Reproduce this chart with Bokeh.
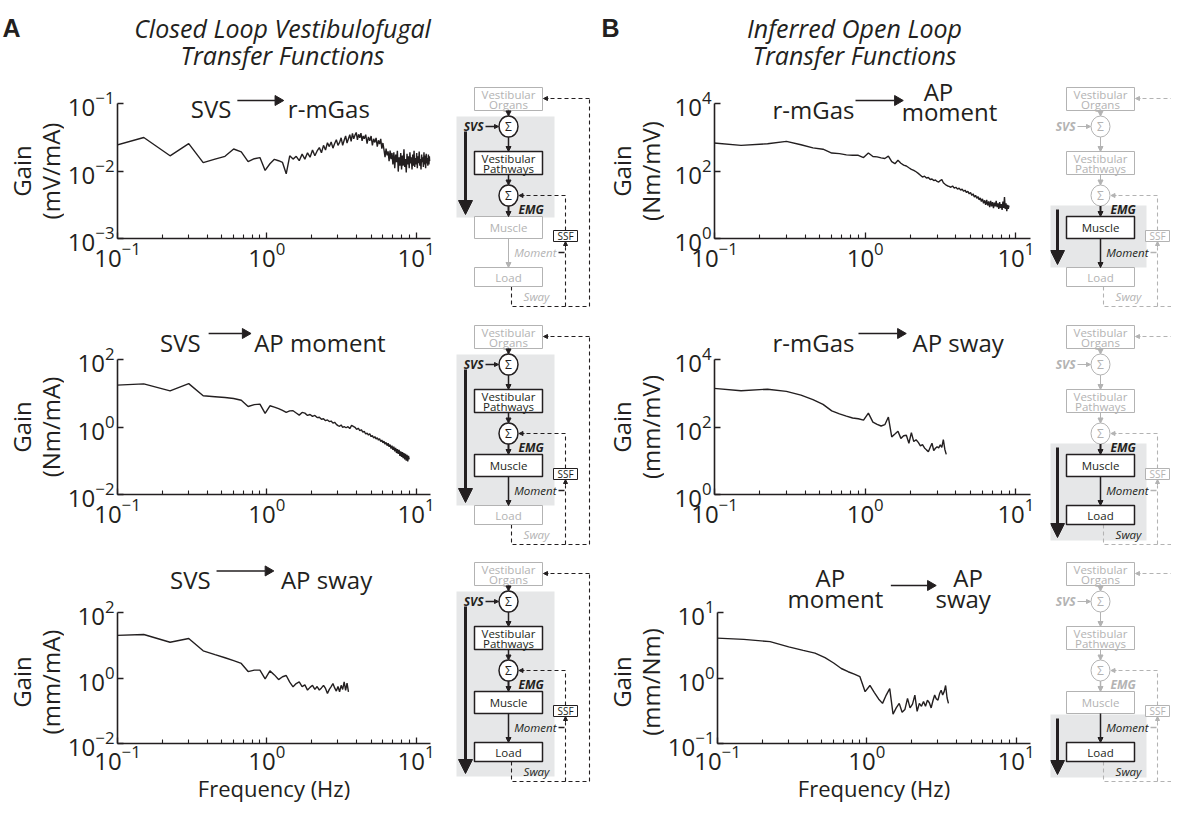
import numpy as np
from bokeh.plotting import figure
from bokeh.models import Range1d, FixedTicker, Arrow, NormalHead
from bokeh.layouts import row, column
from bokeh.embed import file_html
from bokeh.resources import INLINE
from bokeh.core.properties import value

FONT = "Open Sans"
BLACK = "#231f20"
GRAY = "#b3b3b3"
BGC = "#e6e7e8"

# ---------------- data ----------------
F_LOW = [0.075, 0.15, 0.225, 0.3, 0.375, 0.45, 0.525, 0.6, 0.675, 0.75,
         0.825, 0.9, 0.975, 1.05, 1.125, 1.2, 1.275, 1.35, 1.425, 1.5,
         1.575, 1.65, 1.725, 1.8, 1.875, 1.95, 2.025, 2.1, 2.175, 2.25,
         2.325, 2.4, 2.475, 2.55, 2.625, 2.7, 2.775, 2.85, 2.925, 3.0,
         3.075, 3.15, 3.225, 3.3, 3.375, 3.45, 3.525]
F_LOW2 = [3.6, 3.675, 3.75, 3.825, 3.9, 3.975, 4.05, 4.125, 4.2, 4.275, 4.35, 4.425, 4.5]
F_TENTHS = [3.4, 3.5, 3.6, 3.7, 3.8, 3.9, 4.0, 4.1, 4.2, 4.3, 4.4, 4.5, 4.6, 4.7, 4.8, 4.9,
            5.0, 5.1, 5.2, 5.3, 5.4, 5.5, 5.6, 5.7, 5.8, 5.9, 6.0, 6.1, 6.2, 6.3, 6.4, 6.5,
            6.6, 6.7, 6.8, 6.9, 7.0, 7.1, 7.2, 7.3, 7.4, 7.5, 7.6, 7.7, 7.8, 7.9, 8.0, 8.1,
            8.2, 8.3, 8.4, 8.5, 8.6, 8.7, 8.8, 8.9, 9.0, 9.1, 9.2, 9.3, 9.4, 9.5, 9.6, 9.7,
            9.8, 9.9, 10.0, 10.1, 10.2, 10.3, 10.4, 10.5, 10.6, 10.7, 10.8, 10.9, 11.0, 11.1,
            11.2, 11.3, 11.4, 11.5, 11.6, 11.7, 11.8, 11.9, 12.0, 12.1, 12.2, 12.3, 12.4]


def tenths(a, b):
    return [f for f in F_TENTHS if a - 1e-9 <= f <= b + 1e-9]


A1_FREQ = F_LOW + F_LOW2 + tenths(4.6, 12.4)
A1_GAIN = [0.0204, 0.0314, 0.0168, 0.0255, 0.0133, 0.0150, 0.0165, 0.0212, 0.0192, 0.0138,
           0.0152, 0.0158, 0.0102, 0.0128, 0.0149, 0.0142, 0.0134, 0.0091, 0.0168, 0.0150,
           0.0165, 0.0142, 0.0178, 0.0150, 0.0186, 0.0160, 0.0205, 0.0168, 0.0198, 0.0222,
           0.0186, 0.0240, 0.0205, 0.0262, 0.0230, 0.0270, 0.0218, 0.0255, 0.0290, 0.0240,
           0.0265, 0.0310, 0.0240, 0.0285, 0.0330, 0.0260, 0.0300, 0.0345, 0.0275, 0.0360,
           0.0300, 0.0340, 0.0372, 0.0290, 0.0350, 0.0310, 0.0365, 0.0280, 0.0330, 0.0300,
           0.0345, 0.0255, 0.0320, 0.0280, 0.0330, 0.0240, 0.0300, 0.0265, 0.0310, 0.0230,
           0.0285, 0.0250, 0.0300, 0.0215, 0.0260,
           0.0205, 0.0160, 0.0215, 0.0170, 0.0195, 0.0140, 0.0200, 0.0150, 0.0185, 0.0125,
           0.0190, 0.0110, 0.0175, 0.0135, 0.0200, 0.0098, 0.0160, 0.0120, 0.0185, 0.0105,
           0.0170, 0.0120, 0.0210, 0.0115, 0.0150, 0.0095, 0.0180, 0.0125, 0.0165, 0.0110,
           0.0190, 0.0130, 0.0160, 0.0105, 0.0175, 0.0120, 0.0200, 0.0115, 0.0155, 0.0125,
           0.0185, 0.0110, 0.0165, 0.0130, 0.0195, 0.0120, 0.0150, 0.0105, 0.0175, 0.0135,
           0.0160, 0.0115, 0.0190, 0.0125, 0.0170, 0.0110, 0.0180, 0.0130, 0.0155, 0.0120,
           0.0175, 0.0125, 0.0165, 0.0140]

A2_FREQ = F_LOW[:44] + tenths(3.4, 9.0)
A2_GAIN = [16.5, 18.9, 11.8, 19.3, 8.4, 7.9, 7.5, 7.0, 6.2, 4.06,
           4.6, 4.75, 2.53, 4.26, 3.9, 3.5, 3.1, 2.70, 3.0, 3.03,
           2.6, 2.25, 2.7, 2.58, 2.2, 2.35, 2.06, 2.2, 1.9, 1.95,
           1.7, 1.75, 1.54, 1.62, 1.45, 1.5, 1.3, 1.38, 1.2, 1.1,
           1.05, 1.15, 0.98, 1.02,
           0.95, 1.02, 0.90, 1.12, 1.05, 0.98, 0.85, 0.92, 0.78, 0.83,
           0.70, 0.74, 0.62, 0.66, 0.58, 0.63, 0.52, 0.56, 0.47, 0.52,
           0.44, 0.48, 0.41, 0.45, 0.37, 0.41, 0.34, 0.38, 0.31, 0.35,
           0.28, 0.33, 0.26, 0.30, 0.23, 0.28, 0.21, 0.26, 0.19, 0.24,
           0.17, 0.22, 0.16, 0.21, 0.14, 0.19, 0.13, 0.18, 0.12, 0.17,
           0.11, 0.16, 0.10, 0.15, 0.095, 0.14, 0.11]

A3_FREQ = F_LOW
A3_GAIN = [19.5, 21.4, 12.4, 16.2, 6.8, 5.2, 4.17, 3.4, 2.8, 1.58,
           1.75, 1.75, 0.95, 1.66, 1.25, 0.9, 1.1, 1.2, 0.75, 0.54,
           0.68, 0.76, 0.55, 0.62, 0.43, 0.52, 0.6, 0.45, 0.55, 0.43,
           0.5, 0.6, 0.48, 0.34, 0.45, 0.55, 0.68, 0.5, 0.40, 0.55,
           0.38, 0.6, 0.45, 0.76, 0.42, 0.7, 0.38]

B1_FREQ = F_LOW + tenths(3.6, 9.0)
B1_GAIN = [760, 575, 640, 757, 600, 483, 442, 340, 327, 300,
           292, 292, 250, 343, 270, 262, 245, 235, 275, 190,
           165, 208, 170, 150, 141, 125, 112, 104, 95, 85,
           75, 66, 70, 62, 64, 56, 58, 52, 54, 49,
           47, 52, 56, 45, 41, 38, 36,
           35, 33, 36, 31, 33, 29, 31, 27, 29, 25,
           27, 23, 25, 21, 23, 19, 21, 17, 19, 15.5,
           17.5, 14, 16, 12.5, 15, 11, 13.5, 10, 14, 9.5,
           12.5, 8.5, 13, 9, 12, 8, 11.5, 9, 13, 8.5,
           11, 7.5, 12, 8, 10.5, 7, 12.5, 8, 17, 7.5,
           11, 6.5, 10, 7.5, 9.5]

B2_FREQ = F_LOW[:46]
B2_GAIN = [1560, 1190, 1320, 1135, 880, 650, 470, 300, 245, 210,
           185, 176, 160, 257, 140, 120, 107, 117, 197, 51,
           62, 75, 46, 55, 57, 33, 68, 37, 42, 35,
           27.5, 30, 24, 21, 18.6, 25, 33, 20, 23.4, 26,
           24, 29.5, 25, 42, 22, 15.5]

B3_FREQ = F_LOW
B3_GAIN = [4.2, 3.9, 3.6, 3.0, 2.65, 2.4, 2.05, 1.7, 1.4, 1.25,
           1.15, 1.05, 0.62, 0.77, 0.6, 0.48, 0.41, 0.55, 0.69, 0.28,
           0.35, 0.41, 0.3, 0.33, 0.49, 0.35, 0.4, 0.55, 0.31, 0.41,
           0.37, 0.44, 0.37, 0.46, 0.42, 0.35, 0.45, 0.55, 0.48, 0.46,
           0.58, 0.65, 0.55, 0.62, 0.77, 0.5, 0.41]

X_LIM = (0.1, 12.5)
X_MAJOR = [0.1, 1, 10]
X_MINOR = [0.2, 0.3, 0.4, 0.5, 0.6, 0.7, 0.8, 0.9, 2, 3, 4, 5, 6, 7, 8, 9]
Y_TICKS_A1 = [1e-3, 1e-2, 1e-1]
Y_TICKS_A2 = [1e-2, 1, 1e2]
Y_TICKS_A3 = [1e-2, 1, 1e2]
Y_TICKS_B1 = [1, 1e2, 1e4]
Y_TICKS_B2 = [1, 1e2, 1e4]
Y_TICKS_B3 = [0.1, 1, 10]

# ---------------- layout geometry (page px) ----------------
HEAD = (8, 70)
ROWS = [(78, 244, 111), (322, 239, 367), (561, 252, 622)]  # row top, row height, frame top
FRAME_W, FRAME_H = 316, 135
GAIN_W, PLOT_W, BL, BR = 64, 386, 50, 20
DIAG_Y0 = [95, 333, 570]


def no_align(p):
    try:
        p.frame_align = False
    except Exception:
        pass


def blank(width, height, xr, yr):
    p = figure(width=width, height=height, x_range=Range1d(*xr), y_range=Range1d(*yr),
               output_backend="svg", toolbar_location=None, min_border=0,
               x_axis_location=None, y_axis_location=None)
    p.outline_line_color = None
    p.grid.visible = False
    no_align(p)
    return p


def make_gain(colidx, r, unit):
    top, h, ftop = ROWS[r]
    x0 = 8 if colidx == 0 else 608
    g = blank(GAIN_W, h, (x0, x0 + GAIN_W), (-(top + h), -top))
    cy = -(ftop + FRAME_H / 2)
    for t, x in (("Gain", x0 + 21), (unit, x0 + 50)):
        g.text(x=[x], y=[cy], text=[t], angle=np.pi / 2, text_align="center",
               text_baseline="middle", text_font=value(FONT), text_font_size="24px",
               text_color=BLACK)
    return g


def make_plot(colidx, r, freq, gain, yticks, texts, arrows, xlabel=None):
    fig_left = 8 + GAIN_W if colidx == 0 else 608 + GAIN_W
    fl = fig_left + BL
    top, h, ftop = ROWS[r]
    fb = ftop + FRAME_H
    lo, hi = yticks[0], yticks[-1]
    ext = ftop - top
    hi_ext = hi * (hi / lo) ** (ext / FRAME_H)
    p = figure(width=PLOT_W, height=h, x_axis_type="log", y_axis_type="log",
               x_range=Range1d(X_LIM[0], X_LIM[1]), y_range=Range1d(lo, hi_ext),
               output_backend="svg", toolbar_location=None,
               min_border_left=BL, min_border_right=BR,
               min_border_top=0, min_border_bottom=h - ext - FRAME_H)
    no_align(p)
    p.outline_line_color = None
    p.xgrid.visible = False
    p.ygrid.visible = False
    p.xaxis.ticker = FixedTicker(ticks=X_MAJOR, minor_ticks=X_MINOR)
    p.yaxis.ticker = FixedTicker(ticks=yticks, minor_ticks=[])
    p.yaxis.bounds = (lo, hi)
    for ax in (p.xaxis[0], p.yaxis[0]):
        ax.axis_line_width = 1.6
        ax.axis_line_color = BLACK
        ax.major_tick_in = 6
        ax.major_tick_out = 0
        ax.major_tick_line_color = BLACK
        ax.major_tick_line_width = 1.3
        ax.minor_tick_in = 4
        ax.minor_tick_out = 0
        ax.minor_tick_line_color = BLACK
        ax.minor_tick_line_width = 1.1
        ax.major_label_text_font = FONT
        ax.major_label_text_font_size = "24px"
        ax.major_label_text_color = BLACK
        ax.major_label_standoff = 3
    p.yaxis.minor_tick_line_color = None
    if xlabel:
        ax = p.xaxis[0]
        ax.axis_label = xlabel
        ax.axis_label_text_font = FONT
        ax.axis_label_text_font_size = "22px"
        ax.axis_label_text_font_style = "normal"
        ax.axis_label_text_color = BLACK
        ax.axis_label_standoff = 0
        ax.major_label_standoff = 1

    p.line(freq, gain, line_color=BLACK, line_width=1.4)

    # page px -> data coordinates through the log scales
    def xd(px):
        return X_LIM[0] * (X_LIM[1] / X_LIM[0]) ** ((px - fl) / FRAME_W)

    def yd(py):
        return lo * (hi / lo) ** ((fb - py) / FRAME_H)

    for (t, px, py, al) in texts:
        p.text(x=[xd(px)], y=[yd(py)], text=[t], text_align=al, text_baseline="alphabetic",
               text_font=value(FONT), text_font_size="24px", text_color=BLACK)
    for (x0, x1, y) in arrows:
        p.segment(x0=[xd(x0)], y0=[yd(y)], x1=[xd(x1 - 7)], y1=[yd(y)],
                  line_color=BLACK, line_width=1.6)
        p.scatter(x=[xd(x1 - 4)], y=[yd(y)], marker="triangle", size=10, angle=-np.pi / 2,
                  fill_color=BLACK, line_color=BLACK)
    return p


HL = {
    "A1": {"svs", "s1", "e1", "e2", "vp", "e3", "s2", "emg", "e4", "ssf"},
    "A2": {"svs", "s1", "e1", "e2", "vp", "e3", "s2", "emg", "e4", "ssf", "mus", "e5", "mom"},
    "A3": {"svs", "s1", "e1", "e2", "vp", "e3", "s2", "emg", "e4", "ssf", "mus", "e5", "mom",
           "load", "sway"},
    "B1": {"emg", "e4", "mus", "e5", "mom"},
    "B2": {"emg", "e4", "mus", "e5", "mom", "load", "sway"},
    "B3": {"e5", "mom", "load", "sway"},
}
BGS = {"A1": (29, 130, 44, 127), "A2": (29, 180, 44, 177), "A3": (29, 214, 44, 211),
       "B1": (118, 180, 122, 177), "B2": (118, 215, 122, 212), "B3": (152, 215, 156, 212)}


def diagram(p, cx, y0, mode):
    hl = HL[mode]
    isA = mode[0] == "A"
    dc = BLACK if isA else GRAY

    def c(k):
        return BLACK if k in hl else GRAY

    def lw(k):
        return 1.5 if k in hl else 1.0

    def txt(t, x, y, col, size="11.5px", style="normal", align="center"):
        p.text(x=[x], y=[y], text=[t], text_align=align, text_baseline="middle",
               text_font=value(FONT), text_font_size=size, text_color=col,
               text_font_style=style)

    def arr(x0, y0_, x1, y1, col, width=1.2, dash="solid", hs=5):
        p.add_layout(Arrow(x_start=x0, y_start=y0_, x_end=x1, y_end=y1,
                           line_color=col, line_width=width, line_dash=dash,
                           end=NormalHead(size=hs, fill_color=col, line_color=col, line_width=1)))

    bt, bb, a0, a1 = BGS[mode]
    p.quad(left=[cx - 52], right=[cx + 46], top=[y0 + bt], bottom=[y0 + bb],
           fill_color=BGC, line_color=None)

    # dashed feedback loops
    dash = "4 3"
    p.line([cx + 3, cx + 3, cx + 81, cx + 81], [y0 + 199, y0 + 219, y0 + 219, y0 + 11],
           line_color=dc, line_dash=dash, line_width=1.1)
    p.line([cx + 81, cx + 40], [y0 + 11, y0 + 11], line_color=dc, line_dash=dash, line_width=1.1)
    arr(cx + 40, y0 + 11, cx + 35, y0 + 11, dc, 1.0, "solid", 4)
    p.line([cx + 57, cx + 57], [y0 + 219, y0 + 160], line_color=dc, line_dash=dash, line_width=1.1)
    arr(cx + 57, y0 + 160, cx + 57, y0 + 154, dc, 1.0, "solid", 4)
    p.line([cx + 57, cx + 57, cx + 16], [y0 + 143, y0 + 108, y0 + 108],
           line_color=dc, line_dash=dash, line_width=1.1)
    arr(cx + 16, y0 + 108, cx + 10.5, y0 + 108, dc, 1.0, "solid", 4)
    p.line([cx + 50, cx + 56], [y0 + 165, y0 + 165], line_color=dc, line_width=1.3)

    def box(k, ya, yb, lines, ys):
        col = c(k)
        p.quad(left=[cx - 34], right=[cx + 34], top=[y0 + ya], bottom=[y0 + yb],
               fill_color="white", line_color=col, line_width=lw(k))
        for t, yy in zip(lines, ys):
            txt(t, cx, y0 + yy, col)

    box("vo", 0, 23, ["Vestibular", "Organs"], [7, 16.8])
    box("vp", 64, 87, ["Vestibular", "Pathways"], [71, 80.8])
    box("mus", 129, 151, ["Muscle"], [140])
    box("load", 180, 199, ["Load"], [189.5])

    col = c("ssf")
    p.quad(left=[cx + 45], right=[cx + 69], top=[y0 + 143], bottom=[y0 + 154],
           fill_color="white", line_color=col, line_width=1.0)
    txt("SSF", cx + 57, y0 + 148.5, col, size="10px")

    for k, yy in (("s1", 39), ("s2", 108)):
        col = c(k)
        p.ellipse(x=[cx], y=[y0 + yy], width=19, height=21, fill_color="white",
                  line_color=col, line_width=lw(k))
        txt("Σ", cx, y0 + yy, col, size="12px")

    arr(cx, y0 + 23, cx, y0 + 28.5, c("e1"), lw("e1"))
    arr(cx, y0 + 49.5, cx, y0 + 64, c("e2"), lw("e2"))
    arr(cx, y0 + 87, cx, y0 + 97.5, c("e3"), lw("e3"))
    arr(cx, y0 + 118.5, cx, y0 + 129, c("e4"), lw("e4") + 0.5)
    arr(cx, y0 + 151, cx, y0 + 180, c("e5"), lw("e5"))
    arr(cx - 23, y0 + 39, cx - 10, y0 + 39, c("svs"), lw("svs"), hs=4)

    txt("SVS", cx - 25, y0 + 39, c("svs"), size="12px", style="bold italic", align="right")
    txt("EMG", cx + 10, y0 + 122, c("emg"), size="12px", style="bold italic", align="left")
    txt("Moment", cx + 48, y0 + 165, c("mom"), size="11.5px", style="italic", align="right")
    txt("Sway", cx + 28, y0 + 209, c("sway"), size="11.5px", style="italic")

    p.add_layout(Arrow(x_start=cx - 43, y_start=y0 + a0, x_end=cx - 43, y_end=y0 + a1,
                       line_color=BLACK, line_width=3,
                       end=NormalHead(size=14, fill_color=BLACK, line_color=BLACK, line_width=1)))


def make_diag(colidx, r, mode):
    top, h, ftop = ROWS[r]
    if colidx == 0:
        xl, w, cx = 458, 150, 516
    else:
        xl, w, cx = 1058, 121, 1108
    p = blank(w, h, (xl, xl + w), (top + h, top))
    diagram(p, cx, DIAG_Y0[r], mode)
    return p


# header
hdr = blank(1171, HEAD[1], (8, 1179), (HEAD[0] + HEAD[1], HEAD[0]))
for t, x in (("A", 10), ("B", 609)):
    hdr.text(x=[x], y=[35], text=[t], text_align="left", text_baseline="alphabetic",
             text_font=value("Liberation Sans"), text_font_size="25px", text_font_style="bold",
             text_color=BLACK)
for t, x, y in (("Closed Loop Vestibulofugal", 290, 35), ("Transfer Functions", 290, 62),
                ("Inferred Open Loop", 862, 35), ("Transfer Functions", 862, 62)):
    hdr.text(x=[x], y=[y], text=[t], text_align="center", text_baseline="alphabetic",
             text_font=value(FONT), text_font_size="25px", text_font_style="italic",
             text_color=BLACK)

pA1 = make_plot(0, 0, A1_FREQ, A1_GAIN, Y_TICKS_A1,
                [("SVS", 196, 116, "left"), ("r-mGas", 294, 116, "left")], [(243, 288, 108)])
pA2 = make_plot(0, 1, A2_FREQ, A2_GAIN, Y_TICKS_A2,
                [("SVS", 165, 350, "left"), ("AP moment", 260, 350, "left")], [(214, 255, 341)])
pA3 = make_plot(0, 2, A3_FREQ, A3_GAIN, Y_TICKS_A3,
                [("SVS", 175, 588, "left"), ("AP sway", 287, 588, "left")], [(222, 278, 579)],
                xlabel="Frequency (Hz)")
pB1 = make_plot(1, 0, B1_FREQ, B1_GAIN, Y_TICKS_B1,
                [("r-mGas", 780, 117, "left"), ("AP", 946, 99, "center"),
                 ("moment", 957, 119, "center")], [(863, 909, 108)])
pB2 = make_plot(1, 1, B2_FREQ, B2_GAIN, Y_TICKS_B2,
                [("r-mGas", 780, 350, "left"), ("AP sway", 920, 350, "left")], [(866, 912, 341)])
pB3 = make_plot(1, 2, B3_FREQ, B3_GAIN, Y_TICKS_B3,
                [("AP", 836, 586, "center"), ("moment", 841, 607, "center"),
                 ("AP", 975, 586, "center"), ("sway", 970, 607, "center")], [(897, 941, 594)],
                xlabel="Frequency (Hz)")

units = (("(mV/mA)", "(Nm/mV)"), ("(Nm/mA)", "(mm/mV)"), ("(mm/mA)", "(mm/Nm)"))
rows = []
for r, (pa, pb) in enumerate(((pA1, pB1), (pA2, pB2), (pA3, pB3))):
    rows.append(row(make_gain(0, r, units[r][0]), pa, make_diag(0, r, "A%d" % (r + 1)),
                    make_gain(1, r, units[r][1]), pb, make_diag(1, r, "B%d" % (r + 1)),
                    spacing=0))

layout = column(hdr, *rows, spacing=0)
open("out.html", "w").write(file_html(layout, INLINE))
